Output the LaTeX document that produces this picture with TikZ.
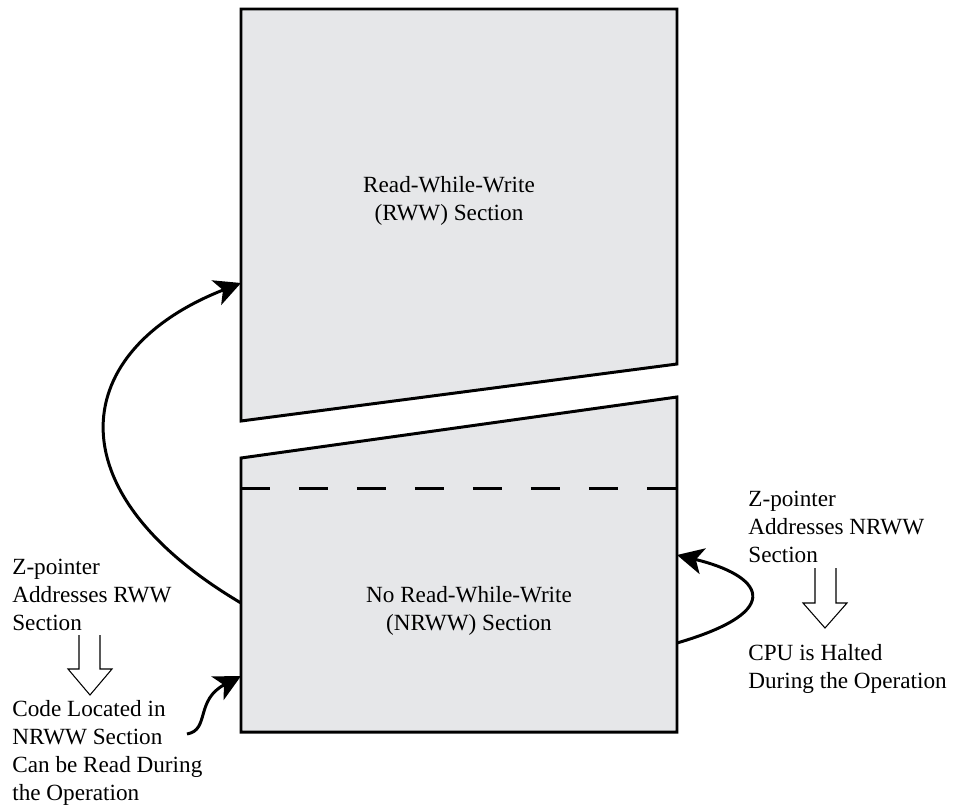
\documentclass[tikz,border=0pt]{standalone}
\usepackage{fontspec}
\setmainfont{Liberation Serif}
\usepackage{color}
\definecolor{mygray}{RGB}{230,231,233}
\usetikzlibrary{arrows.meta,positioning}
\tikzstyle{section}=[draw,fill=mygray,line width=1.7pt,line join=miter]
\tikzstyle{flow}=[line width=1.7pt,-{Stealth[length=15pt,width=15pt,inset=4pt]}]
\tikzstyle{hollow}=[line width=0.6pt]
\tikzstyle{txt}=[font=\fontsize{13.2pt}{15.9pt}\selectfont,inner sep=0pt]

\begin{document}
\begin{tikzpicture}[x=0.02cm,y=-0.02cm]
\useasboundingbox (0,0) rectangle (961,812);
% the two sections of the flash
\draw[section] (241,9) -- (677,9) -- (677,364) -- (241,421) -- cycle;
\draw[section] (241,458) -- (677,397) -- (677,732) -- (241,732) -- cycle;
\draw[line width=1.7pt,dash pattern=on 16.5pt off 16.5pt] (241,488) -- (677,488);
\node[txt,align=center,anchor=base] (rww) at (449,220) {Read-While-Write\\(RWW) Section};
\node[txt,align=center,anchor=base] (nrww) at (469,630) {No Read-While-Write\\(NRWW) Section};
% notes
\node[txt,align=left,anchor=base west] (zrww) at (12,630) {Z-pointer\\Addresses RWW\\Section};
\node[txt,align=left,anchor=base west] (code) at (12,800) {Code Located in\\NRWW Section\\Can be Read During\\the Operation};
\node[txt,align=left,anchor=base west] (znrww) at (748,562) {Z-pointer\\Addresses NRWW\\Section};
\node[txt,align=left,anchor=base west] (cpu) at (748,688) {CPU is Halted\\During the Operation};
% arrow ends
\coordinate (rwwin) at (241,283);
\coordinate (nrwwout) at (241,603);
\coordinate (nrwwin) at (241,676);
\coordinate (codetail) at (187,734);
\coordinate (loopout) at (677,643);
\coordinate (loopin) at (677,555);
\draw[flow] (nrwwout) .. controls (50,490) and (70,350) .. (rwwin);
\draw[flow] (codetail) .. controls (210,730) and (195,700) .. (nrwwin);
\draw[flow] (loopout) .. controls (790,610) and (760,575) .. (loopin);
% hollow arrows
\draw[hollow] (79,635) -- (79,669) -- (68,669) -- (90,695) -- (112,669) -- (100,669) -- (100,635);
\draw[hollow] (815,568) -- (815,603) -- (803,603) -- (825,628) -- (847,603) -- (836,603) -- (836,568);
\end{tikzpicture}
\end{document}
